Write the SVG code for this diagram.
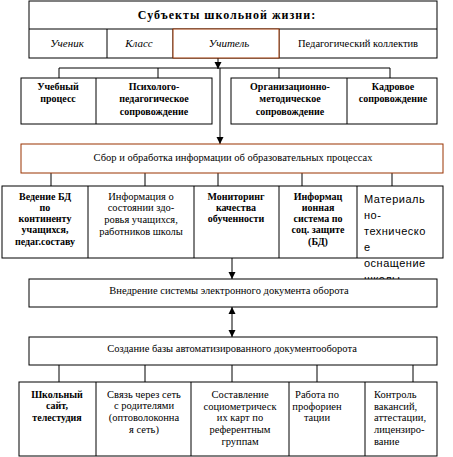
<svg xmlns="http://www.w3.org/2000/svg" width="453" height="457" viewBox="0 0 453 457" font-family="Liberation Serif, Times New Roman, serif">
<style>
.b{fill:#fff;stroke:#000;stroke-width:1}
.br{fill:#fff;stroke:#993300;stroke-width:1}
.ln{stroke:#000;stroke-width:1;fill:none}
text{font-family:'Liberation Serif','Times New Roman',Times,'DejaVu Serif',serif;font-size:10.5px;fill:#000;text-anchor:middle}
.bd{font-weight:bold;font-size:10px}
.it{font-style:italic;font-size:11px}
.l{text-anchor:start}
.mat{font-family:'Liberation Sans',Arial,sans-serif;font-size:11px;letter-spacing:0.5px}
</style>
<defs>
<marker id="ah" markerWidth="8" markerHeight="8" refX="7" refY="4" orient="auto" markerUnits="userSpaceOnUse">
<path d="M0,0.5 L7,4 L0,7.5 Z" fill="#000"/>
</marker>
<marker id="as" markerWidth="8" markerHeight="8" refX="0" refY="4" orient="auto" markerUnits="userSpaceOnUse">
<path d="M7,0.5 L0,4 L7,7.5 Z" fill="#000"/>
</marker>
</defs>

<g id="connectors">
<line class="ln" x1="218" y1="58" x2="218" y2="69" marker-end="url(#ah)"/>
<line class="ln" x1="59" y1="68" x2="390" y2="68"/>
<line class="ln" x1="59" y1="68" x2="59" y2="78"/>
<line class="ln" x1="158" y1="68" x2="158" y2="78"/>
<line class="ln" x1="279" y1="68" x2="279" y2="78"/>
<line class="ln" x1="390" y1="68" x2="390" y2="78"/>
<line class="ln" x1="220" y1="68" x2="220" y2="144" marker-end="url(#ah)"/>
<line class="ln" x1="51" y1="173" x2="51" y2="186"/>
<line class="ln" x1="145" y1="173" x2="145" y2="186"/>
<line class="ln" x1="218" y1="173" x2="218" y2="186"/>
<line class="ln" x1="302" y1="173" x2="302" y2="186"/>
<line class="ln" x1="392" y1="173" x2="392" y2="186"/>
<line class="ln" x1="232" y1="258" x2="232" y2="279" marker-end="url(#ah)"/>
<line class="ln" x1="232" y1="307" x2="232" y2="337" marker-start="url(#as)" marker-end="url(#ah)"/>
<line class="ln" x1="59" y1="365" x2="59" y2="382"/>
<line class="ln" x1="145" y1="365" x2="145" y2="382"/>
<line class="ln" x1="232" y1="365" x2="232" y2="382"/>
<line class="ln" x1="317" y1="365" x2="317" y2="382"/>
<line class="ln" x1="413" y1="365" x2="413" y2="382"/>
</g>

<g id="subjects">
<rect class="b" x="29" y="1" width="408" height="57"/>
<line class="ln" x1="29" y1="29" x2="437" y2="29"/>
<line class="ln" x1="107" y1="29" x2="107" y2="58"/>
<line class="ln" x1="173" y1="29" x2="173" y2="58"/>
<line class="ln" x1="279" y1="29" x2="279" y2="58"/>
<text x="227" y="19" style="font-weight:bold;font-size:12px;letter-spacing:1px">Субъекты школьной жизни:</text>
<text class="it" x="67" y="47">Ученик</text>
<text class="it" x="139" y="47">Класс</text>
<text x="358" y="47">Педагогический коллектив</text>
</g>
<g id="teacher">
<rect class="br" x="173" y="29" width="106" height="29"/>
<text class="it" x="229" y="47">Учитель</text>
</g>

<g id="left-group">
<rect class="b" x="21" y="78" width="191" height="46"/>
<line class="ln" x1="96" y1="78" x2="96" y2="124"/>
<text class="bd" x="58" y="90">Учебный</text>
<text class="bd" x="58" y="102">процесс</text>
<text class="bd" x="154" y="90">Психолого-</text>
<text class="bd" x="154" y="102">педагогическое</text>
<text class="bd" x="154" y="115">сопровождение</text>
</g>

<g id="right-group">
<rect class="b" x="231" y="78" width="206" height="46"/>
<line class="ln" x1="347" y1="78" x2="347" y2="124"/>
<text class="bd" x="290" y="90">Организационно-</text>
<text class="bd" x="290" y="102">методическое</text>
<text class="bd" x="290" y="115">сопровождение</text>
<text class="bd" x="393" y="90">Кадровое</text>
<text class="bd" x="393" y="102">сопровождение</text>
</g>

<g id="collect">
<rect class="br" x="21" y="144" width="422" height="29"/>
<text x="233" y="161">Сбор и обработка информации об образовательных процессах</text>
</g>

<g id="row-info">
<rect class="b" x="2" y="186" width="441" height="72"/>
<line class="ln" x1="88" y1="186" x2="88" y2="258"/>
<line class="ln" x1="194" y1="186" x2="194" y2="258"/>
<line class="ln" x1="279" y1="186" x2="279" y2="258"/>
<line class="ln" x1="357" y1="186" x2="357" y2="258"/>
<text class="bd" x="45" y="200">Ведение БД</text>
<text class="bd" x="45" y="211">по</text>
<text class="bd" x="45" y="222">континенту</text>
<text class="bd" x="45" y="233">учащихся,</text>
<text class="bd" x="45" y="245">педаг.составу</text>
<text x="141" y="200">Информация о</text>
<text x="141" y="211">состоянии здо-</text>
<text x="141" y="223">ровья учащихся,</text>
<text x="141" y="235">работников школы</text>
<text class="bd" x="236" y="200">Мониторинг</text>
<text class="bd" x="236" y="211">качества</text>
<text class="bd" x="236" y="222">обученности</text>
<text class="bd" x="318" y="200">Информац</text>
<text class="bd" x="318" y="211">ионная</text>
<text class="bd" x="318" y="222">система по</text>
<text class="bd" x="318" y="233">соц. защите</text>
<text class="bd" x="318" y="245">(БД)</text>
<text class="mat l" x="364" y="203">Материаль</text>
<text class="mat l" x="364" y="219">но-</text>
<text class="mat l" x="364" y="235">техническо</text>
<text class="mat l" x="364" y="251">е</text>
<text class="mat l" x="364" y="267">оснащение</text>
<text class="mat l" x="364" y="283">школы</text>
</g>

<g id="edoc">
<rect class="b" x="29" y="279" width="408" height="28"/>
<text x="229" y="294">Внедрение системы электронного документа оборота</text>
</g>

<g id="autodb">
<rect class="b" x="29" y="337" width="408" height="28"/>
<text x="232" y="352">Создание базы автоматизированного документооборота</text>
</g>

<g id="row-bottom">
<rect class="b" x="19" y="382" width="418" height="74"/>
<line class="ln" x1="96" y1="382" x2="96" y2="456"/>
<line class="ln" x1="191" y1="382" x2="191" y2="456"/>
<line class="ln" x1="289" y1="382" x2="289" y2="456"/>
<line class="ln" x1="365" y1="382" x2="365" y2="456"/>
<text class="bd" x="57" y="398">Школьный</text>
<text class="bd" x="57" y="409">сайт,</text>
<text class="bd" x="57" y="421">телестудия</text>
<text x="144" y="398">Связь через сеть</text>
<text x="144" y="409">с родителями</text>
<text x="144" y="421">(оптоволоконна</text>
<text x="144" y="433">я сеть)</text>
<text x="240" y="398">Составление</text>
<text x="240" y="410">социометрическ</text>
<text x="240" y="421">их карт по</text>
<text x="240" y="433">референтным</text>
<text x="240" y="445">группам</text>
<text x="317" y="398">Работа по</text>
<text x="317" y="410">профориен</text>
<text x="317" y="421">тации</text>
<text class="l" x="374" y="398">Контроль</text>
<text class="l" x="374" y="410">вакансий,</text>
<text class="l" x="374" y="421">аттестации,</text>
<text class="l" x="374" y="433">лицензиро-</text>
<text class="l" x="374" y="445">вание</text>
</g>
</svg>
